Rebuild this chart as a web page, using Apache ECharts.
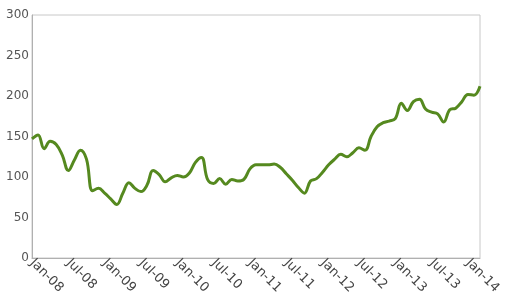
<!DOCTYPE html>
<html><head><meta charset="utf-8">
<script src="https://cdn.jsdelivr.net/npm/echarts@6/dist/echarts.min.js"></script>
<style>html,body{margin:0;padding:0;background:#fff}#c{width:505px;height:302px}</style>
</head><body><div id="c"></div>
<script>
var months = ['Jan','Feb','Mar','Apr','May','Jun','Jul','Aug','Sep','Oct','Nov','Dec'];
var categories = [];
for (var y = 8; y <= 14; y++) {
  for (var m = 0; m < 12; m++) {
    if (y === 14 && m > 2) break;
    categories.push(months[m] + '-' + (y < 10 ? '0' + y : '' + y));
  }
}
var values = [
  147,152,135,144,140,127,108,121,133,122,83,86,
  80,73,66,80,93,86,82,90,108,103,94,99,
  102,100,105,118,124,97,92,98,91,97,95,97,
  110,115,115,115,116,112,104,96,87,80,95,98,
  106,115,122,128,125,130,136,133,150,162,167,169,
  172,191,182,193,196,184,180,178,168,183,185,193,
  202,201,212
];
var yTicks = [0,50,100,150,200,250,300];

var chart = echarts.init(document.getElementById('c'), null, {renderer:'canvas'});
chart.setOption({
  animation:false,
  grid:{left:32,right:25,top:15,bottom:44,show:true,borderColor:'#c8c8c8',borderWidth:1,
        containLabel:false, outerBoundsMode:'none'},
  xAxis:{
    type:'category', data:categories, boundaryGap:false,
    axisLine:{lineStyle:{color:'#b0b0b0'}},
    axisTick:{show:false},
    axisLabel:{interval:5, rotate:-45, color:'#444', fontFamily:'DejaVu Sans', fontSize:13, margin:3}
  },
  yAxis:{
    type:'value', min:yTicks[0], max:yTicks[yTicks.length-1], interval:50,
    axisLine:{show:true,lineStyle:{color:'#b0b0b0'}},
    axisTick:{show:false},
    splitLine:{show:false},
    axisLabel:{color:'#555', fontFamily:'DejaVu Sans', fontSize:12, margin:3}
  },
  series:[{
    type:'line', data:values, smooth:0.4, showSymbol:false,
    lineStyle:{color:'#55891f', width:3}
  }]
});
</script></body></html>
